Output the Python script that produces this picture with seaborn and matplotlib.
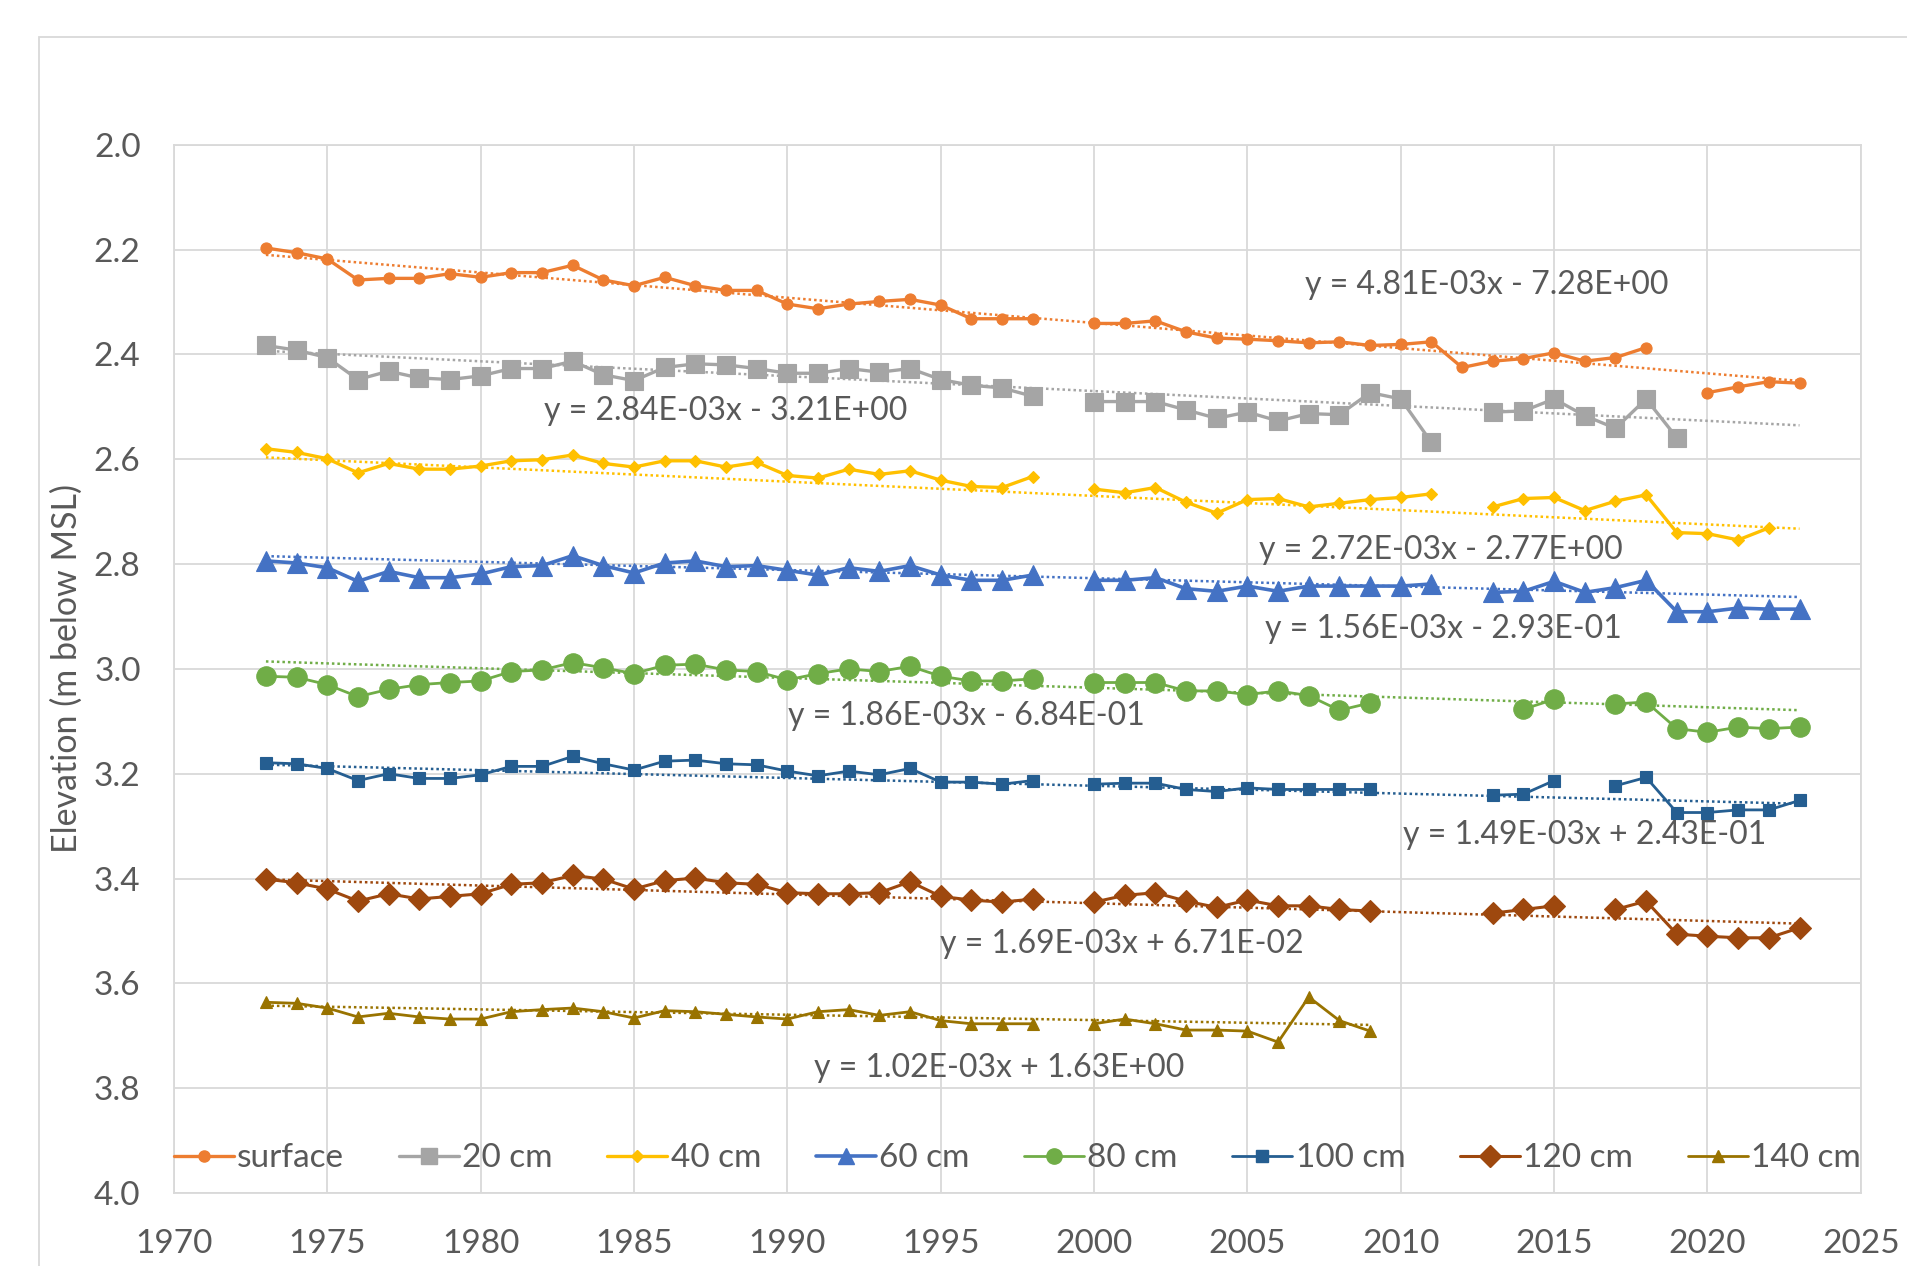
import numpy as np
import pandas as pd
import matplotlib
matplotlib.use("Agg")
import matplotlib.pyplot as plt
from matplotlib.lines import Line2D
from matplotlib.patches import Rectangle
import seaborn as sns

nan = np.nan

# Yearly records, 1973-2023 (nan = no measurement)
years = list(range(1973, 2024))

surface = [2.197, 2.206, 2.218, 2.258, 2.255, 2.255, 2.246, 2.253, 2.244, 2.244,
           2.230, 2.258, 2.269, 2.253, 2.269, 2.278, 2.278, 2.304, 2.313, 2.304,
           2.299, 2.295, 2.306, 2.332, 2.332, 2.332, nan, 2.341, 2.341, 2.336,
           2.357, 2.369, 2.371, 2.374, 2.378, 2.376, 2.383, 2.381, 2.376, 2.425,
           2.413, 2.408, 2.397, 2.413, 2.406, 2.387, nan, 2.473, 2.462, 2.452,
           2.455]

cm20 = [2.383, 2.392, 2.406, 2.448, 2.432, 2.445, 2.448, 2.441, 2.427, 2.427,
        2.413, 2.439, 2.450, 2.425, 2.418, 2.420, 2.427, 2.436, 2.436, 2.427,
        2.434, 2.427, 2.448, 2.459, 2.464, 2.480, nan, 2.490, 2.490, 2.490,
        2.506, 2.522, 2.510, 2.527, 2.513, 2.515, 2.473, 2.485, 2.568, nan,
        2.510, 2.508, 2.485, 2.517, 2.541, 2.485, 2.559, nan, nan, nan,
        nan]

cm40 = [2.580, 2.587, 2.599, 2.626, 2.608, 2.619, 2.619, 2.613, 2.603, 2.601,
        2.592, 2.608, 2.615, 2.603, 2.603, 2.615, 2.606, 2.631, 2.636, 2.619,
        2.629, 2.622, 2.640, 2.652, 2.654, 2.633, nan, 2.657, 2.664, 2.654,
        2.682, 2.703, 2.677, 2.675, 2.691, 2.684, 2.677, 2.673, 2.666, nan,
        2.691, 2.675, 2.673, 2.698, 2.680, 2.668, 2.740, 2.742, 2.754, 2.731,
        nan]

cm60 = [2.794, 2.798, 2.807, 2.833, 2.814, 2.826, 2.826, 2.819, 2.805, 2.803,
        2.784, 2.803, 2.817, 2.798, 2.794, 2.805, 2.803, 2.812, 2.821, 2.807,
        2.814, 2.803, 2.821, 2.831, 2.831, 2.821, nan, 2.831, 2.831, 2.826,
        2.847, 2.852, 2.842, 2.852, 2.842, 2.842, 2.842, 2.842, 2.838, nan,
        2.854, 2.852, 2.833, 2.854, 2.845, 2.831, 2.891, 2.891, 2.884, 2.886,
        2.886]

cm80 = [3.014, 3.016, 3.030, 3.053, 3.039, 3.030, 3.026, 3.023, 3.005, 3.002,
        2.988, 2.998, 3.009, 2.993, 2.991, 3.002, 3.005, 3.021, 3.009, 3.000,
        3.005, 2.995, 3.014, 3.023, 3.023, 3.019, nan, 3.026, 3.026, 3.026,
        3.042, 3.042, 3.049, 3.042, 3.051, 3.079, 3.065, nan, nan, nan,
        nan, 3.077, 3.058, nan, 3.067, 3.063, 3.114, 3.121, 3.111, 3.114,
        3.111]

cm100 = [3.179, 3.181, 3.190, 3.213, 3.200, 3.209, 3.209, 3.202, 3.186, 3.186,
         3.167, 3.181, 3.193, 3.176, 3.174, 3.181, 3.183, 3.195, 3.204, 3.195,
         3.202, 3.190, 3.216, 3.216, 3.220, 3.213, nan, 3.220, 3.218, 3.218,
         3.230, 3.234, 3.227, 3.230, 3.230, 3.230, 3.230, nan, nan, nan,
         3.241, 3.239, 3.213, nan, 3.223, 3.207, 3.274, 3.274, 3.269, 3.269,
         3.251]

cm120 = [3.401, 3.408, 3.420, 3.443, 3.429, 3.439, 3.434, 3.429, 3.411, 3.408,
         3.394, 3.401, 3.420, 3.404, 3.399, 3.408, 3.411, 3.427, 3.429, 3.429,
         3.427, 3.406, 3.434, 3.441, 3.445, 3.439, nan, 3.445, 3.432, 3.427,
         3.443, 3.455, 3.441, 3.452, 3.452, 3.459, 3.462, nan, nan, nan,
         3.466, 3.459, 3.452, nan, 3.459, 3.443, 3.506, 3.510, 3.513, 3.513,
         3.494]

cm140 = [3.636, 3.638, 3.647, 3.664, 3.657, 3.664, 3.668, 3.668, 3.654, 3.650,
         3.647, 3.654, 3.666, 3.652, 3.654, 3.659, 3.664, 3.668, 3.654, 3.650,
         3.661, 3.654, 3.671, 3.677, 3.677, 3.677, nan, 3.677, 3.668, 3.677,
         3.689, 3.689, 3.691, 3.712, 3.626, 3.671, 3.691, nan, nan, nan,
         nan, nan, nan, nan, nan, nan, nan, nan, nan, nan,
         nan]

depths = ["surface", "20 cm", "40 cm", "60 cm", "80 cm", "100 cm", "120 cm", "140 cm"]
series = [surface, cm20, cm40, cm60, cm80, cm100, cm120, cm140]

# Linear trend fits: elevation = slope * year + intercept
slopes = [4.81e-3, 2.84e-3, 2.72e-3, 1.56e-3, 1.86e-3, 1.49e-3, 1.69e-3, 1.02e-3]
intercepts = [-7.28, -3.21, -2.77, -0.293, -0.684, 0.243, 0.0671, 1.63]
trend_start = [1973, 1973, 1973, 1973, 1973, 1973, 1973, 1973]
trend_end = [2023, 2023, 2023, 2023, 2023, 2023, 2023, 2009]

# Styling
colors = ["#ED7D31", "#A5A5A5", "#FFC000", "#4472C4", "#70AD47", "#255E91", "#9E480E", "#997300"]
markers = ["o", "s", "D", "^", "o", "s", "D", "^"]
msizes = [8, 13, 6, 14, 14, 8, 11, 9]
lwidths = [2.4, 2.4, 2.4, 2.6, 2.0, 2.0, 2.2, 2.0]
eq_x = [2012.8, 1988.0, 2011.3, 2011.4, 1995.85, 2016.0, 2000.9, 1996.9]
eq_y = [2.267, 2.508, 2.773, 2.923, 3.090, 3.316, 3.524, 3.761]

# Long-form table with a segment id so gaps break the lines
rows = []
for name, vals in zip(depths, series):
    seg = 0
    prev_nan = True
    for yr, v in zip(years, vals):
        if np.isnan(v):
            prev_nan = True
            continue
        if prev_nan:
            seg += 1
            prev_nan = False
        rows.append({"depth": name, "year": yr, "elev": v, "segment": seg})
df = pd.DataFrame(rows)

sns.set_theme(style="white")
plt.rcParams["font.family"] = ["Lato", "DejaVu Sans"]
text_col = "#595959"
grid_col = "#d9d9d9"

fig = plt.figure(figsize=(19.07, 12.66), dpi=100)
ax = fig.add_axes([0.0912, 0.0576, 0.8846, 0.8281])

# Outer chart frame
fig.patches.append(Rectangle((0.0204, -0.2), 1.5, 0.971 + 0.2, transform=fig.transFigure,
                             fill=False, edgecolor=grid_col, linewidth=1.3))

handles = []
for i, name in enumerate(depths):
    c = colors[i]
    x0, x1 = trend_start[i], trend_end[i]
    tx = np.array([x0, x1], dtype=float)
    ty = slopes[i] * tx + intercepts[i]
    sns.lineplot(x=tx, y=ty, color=c, linestyle=(0, (1, 1.2)), linewidth=1.8,
                 ax=ax, legend=False, zorder=2)

    sub = df[df["depth"] == name]
    sns.lineplot(data=sub, x="year", y="elev", units="segment", estimator=None,
                 sort=False, color=c, marker=markers[i], markersize=msizes[i],
                 markeredgecolor=c, markeredgewidth=0.8, linewidth=lwidths[i],
                 ax=ax, legend=False, zorder=3)

    handles.append(Line2D([0], [0], color=c, marker=markers[i],
                          markersize=min(msizes[i], 11), markeredgecolor=c,
                          linewidth=lwidths[i], label=name))

    sign = "-" if intercepts[i] < 0 else "+"
    label = f"y = {slopes[i]:.2E}x {sign} {abs(intercepts[i]):.2E}"
    ax.text(eq_x[i], eq_y[i], label, ha="center", va="center",
            fontsize=23, color=text_col, zorder=4)

ax.set_xlim(1970, 2025)
ax.set_ylim(4.0, 2.0)
ax.set_xticks(range(1970, 2026, 5))
yt = np.round(np.arange(2.0, 4.001, 0.2), 1)
ax.set_yticks(yt)
ax.set_yticklabels([f"{v:.1f}" for v in yt])
ax.grid(True, color=grid_col, linewidth=1.3)
for s in ax.spines.values():
    s.set_color(grid_col)
    s.set_linewidth(1.3)
ax.tick_params(axis="both", length=0, labelsize=24, labelcolor=text_col)
ax.tick_params(axis="x", pad=26)
ax.tick_params(axis="y", pad=24)
ax.set_xlabel("")
ax.set_ylabel("Elevation (m below MSL)", fontsize=24.5, color=text_col)
ax.yaxis.set_label_coords(-0.054, 0.5)

leg = ax.legend(handles=handles, ncol=8, loc="center", mode="expand",
                bbox_to_anchor=(0.0, -0.002, 1.0, 0.07), frameon=False,
                fontsize=24, handlelength=1.8, handletextpad=0.1,
                borderaxespad=0.0, borderpad=0.0)
for t in leg.get_texts():
    t.set_color(text_col)

fig.savefig("out.png", dpi=100)
